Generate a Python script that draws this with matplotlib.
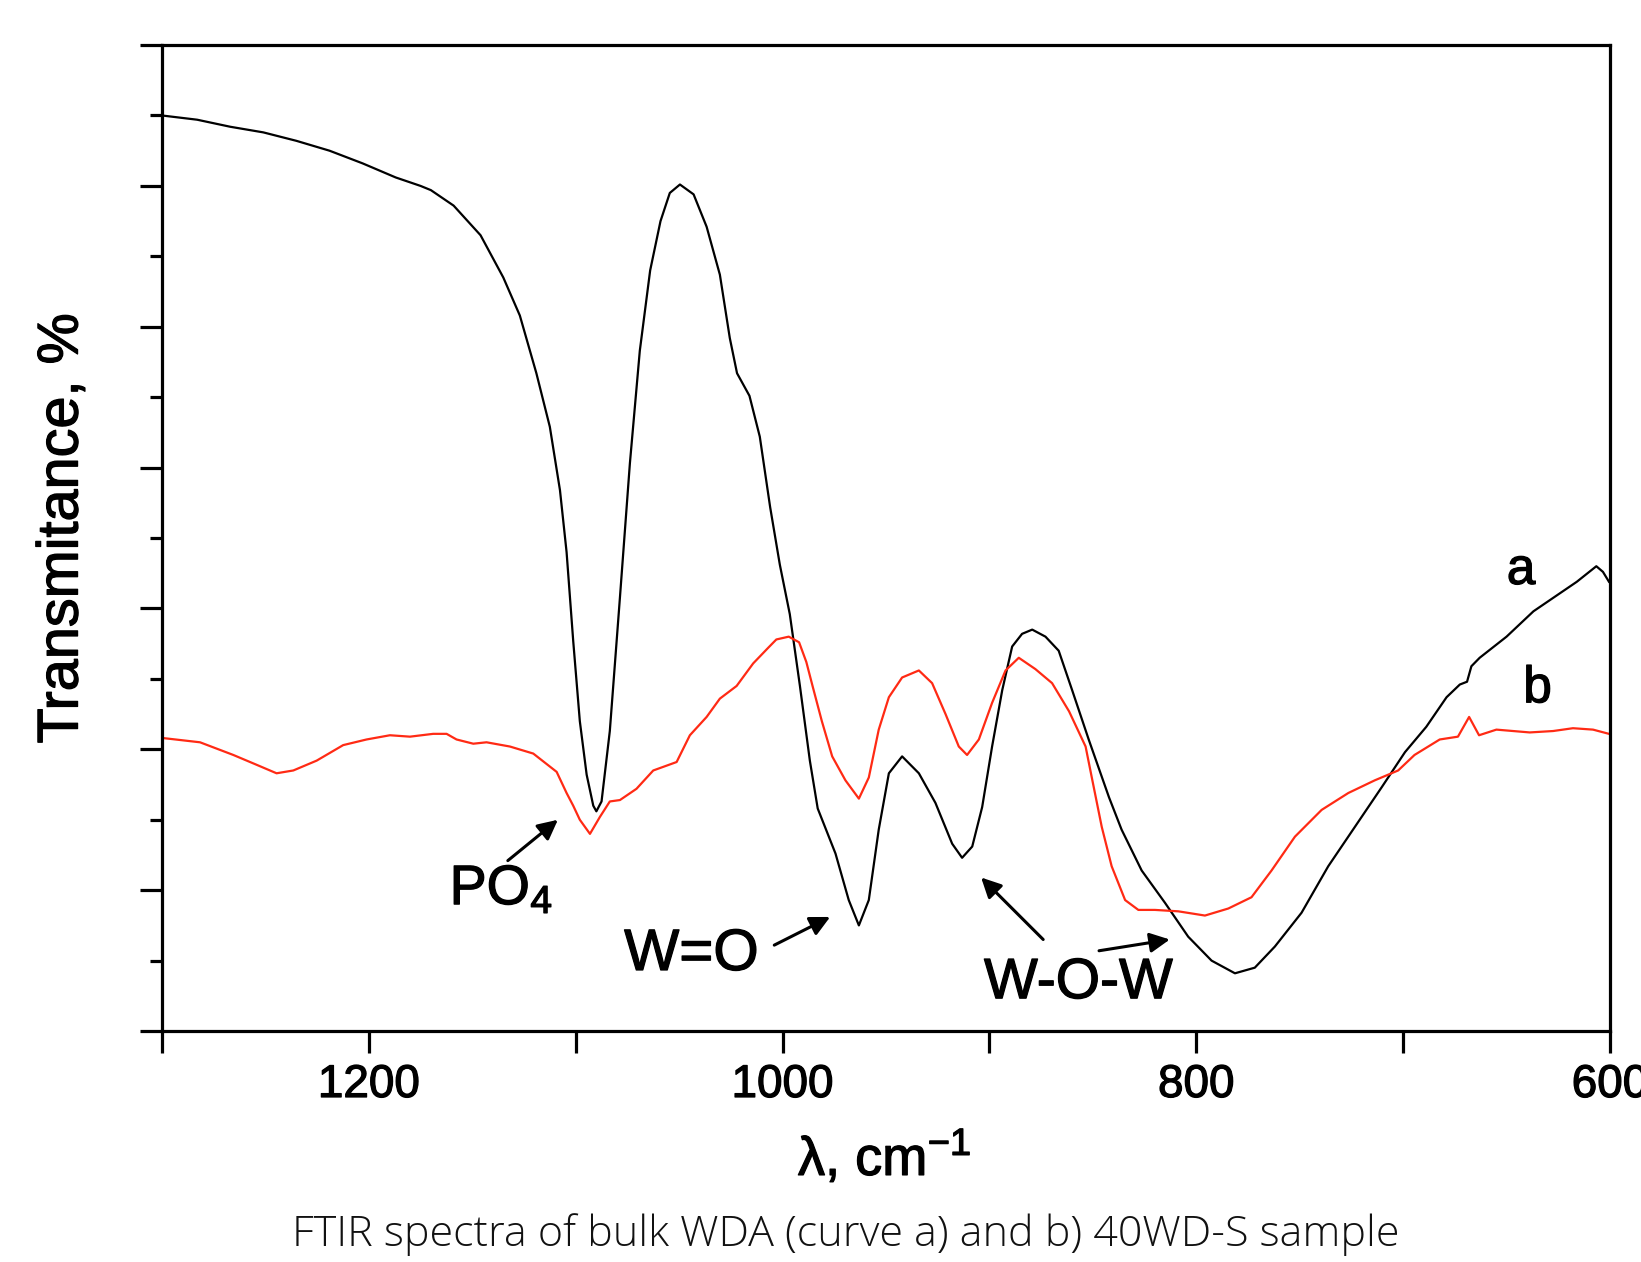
import matplotlib
matplotlib.use("Agg")
import matplotlib.pyplot as plt
import matplotlib.patheffects as pe

plt.rcParams['font.family'] = ['Liberation Sans', 'DejaVu Sans']
plt.rcParams['mathtext.fontset'] = 'custom'
plt.rcParams['mathtext.rm'] = 'Liberation Sans'
plt.rcParams['mathtext.it'] = 'Liberation Sans'
plt.rcParams['mathtext.default'] = 'regular'

# curve a: bulk WDA (wavenumber cm-1, transmittance in axis units 0..7)
wn_a = [1300, 1283, 1267, 1251, 1235, 1219, 1203, 1187, 1175, 1170, 1159, 1146,
        1135, 1127, 1119, 1112.5, 1107.6, 1104.4, 1101.2, 1098, 1094.7, 1091.5,
        1090, 1087.5, 1083.5, 1078.6, 1073.8, 1069, 1064, 1059, 1054.5, 1049.6,
        1043, 1036.7, 1030.3, 1025.5, 1022, 1016, 1011, 1006, 1001.3, 996.5,
        991.6, 986.8, 983, 974.4, 968, 963.1, 958.3, 953.5, 948.6, 942.2, 934.1,
        926.1, 918, 913.2, 908.3, 903.5, 898.7, 893.8, 889, 884.2, 879.3, 872.9,
        866.5, 860, 852, 842.2, 836.1, 826.4, 815.1, 803.9, 792.6, 781.3, 771.7,
        762, 749.1, 736.2, 723.3, 710.4, 699.1, 688.8, 679, 672.6, 669.1, 667,
        663, 650, 637, 624, 616, 606.6, 603.4, 600.5]
tr_a = [6.50, 6.47, 6.42, 6.38, 6.32, 6.25, 6.16, 6.06, 6.00, 5.97, 5.86, 5.65,
        5.35, 5.08, 4.67, 4.29, 3.84, 3.40, 2.77, 2.20, 1.82, 1.60,
        1.56, 1.63, 2.13, 3.08, 4.03, 4.83, 5.40, 5.75, 5.95, 6.01,
        5.94, 5.71, 5.37, 4.92, 4.67, 4.51, 4.22, 3.72, 3.31, 2.96,
        2.45, 1.92, 1.58, 1.26, 0.93, 0.75, 0.93, 1.43, 1.83, 1.95, 1.83,
        1.62, 1.33, 1.23, 1.31, 1.59, 2.02, 2.42, 2.73, 2.82, 2.85, 2.80,
        2.70, 2.42, 2.07, 1.66, 1.43, 1.14, 0.91, 0.67, 0.50, 0.41, 0.45,
        0.60, 0.84, 1.17, 1.45, 1.73, 1.98, 2.16, 2.37, 2.46, 2.48, 2.59,
        2.65, 2.80, 2.98, 3.11, 3.19, 3.30, 3.26, 3.19]

# curve b: 40WD-S sample
wn_b = [1299.4, 1281.6, 1265.5, 1254.2, 1244.6, 1236.5, 1225.2, 1212.4, 1201.1,
        1189.8, 1180.1, 1168.9, 1162.4, 1157.6, 1149.5, 1143.1, 1131.8, 1120.5,
        1109.2, 1104.4, 1101.2, 1098, 1093.1, 1088.3, 1083.5, 1078.6, 1070.6,
        1062.5, 1051.2, 1044.8, 1036.7, 1030.3, 1022.2, 1014.2, 1007, 1003,
        997, 992, 988.5, 985.5, 981, 976, 969.6, 963.1, 958.3, 953.5, 948.6, 942.2,
        934.1, 927.7, 921.2, 914.8, 910.8, 905.1, 898.7, 892.2, 885.8, 877.8, 869.7,
        861.5, 853.5, 850.5, 845.7, 840.9, 834.4, 828, 820, 808.7, 795.8, 784.5,
        773.3, 763.6, 752.3, 739.4, 726.5, 713.7, 702.4, 694.5, 682.3, 673.5, 668.1,
        663.3, 654.9, 638.8, 627.5, 617.9, 608.2, 600.5]
tr_b = [2.08, 2.05, 1.96, 1.89, 1.83, 1.85, 1.92, 2.03, 2.07,
        2.10, 2.09, 2.11, 2.11, 2.07, 2.04, 2.05, 2.02, 1.97,
        1.84, 1.69, 1.60, 1.50, 1.40, 1.52, 1.63, 1.64, 1.72,
        1.85, 1.91, 2.10, 2.23, 2.36, 2.45, 2.61, 2.72, 2.78,
        2.80, 2.76, 2.62, 2.45, 2.20, 1.95, 1.78, 1.65, 1.80, 2.14, 2.37, 2.51,
        2.56, 2.47, 2.25, 2.02, 1.96, 2.07, 2.33, 2.56, 2.65, 2.57, 2.47,
        2.27, 2.02, 1.80, 1.45, 1.17, 0.93, 0.86, 0.86, 0.85, 0.82, 0.87,
        0.95, 1.14, 1.38, 1.57, 1.69, 1.78, 1.85, 1.96, 2.07, 2.09, 2.23,
        2.10, 2.14, 2.12, 2.13, 2.15, 2.14, 2.11]

xticks = [1200, 1000, 800, 600]

heavy = [pe.withStroke(linewidth=0.9, foreground='black')]

fig = plt.figure(figsize=(16.41, 12.62), dpi=100)
ax = fig.add_axes([0.0987, 0.183, 0.8824, 0.7813])

ax.plot(wn_a, tr_a, color='black', lw=1.6, solid_joinstyle='round')
ax.plot(wn_b, tr_b, color='#ff2a14', lw=1.6, solid_joinstyle='round')

ax.set_xlim(1300, 600)
ax.set_ylim(0, 7)
ax.set_xticks(xticks)
ax.set_xticks([1300, 1100, 900, 700], minor=True)
ax.set_yticks(range(0, 8))
ax.set_yticks([k + 0.5 for k in range(7)], minor=True)
ax.set_yticklabels([])
for s in ax.spines.values():
    s.set_linewidth(2.3)
ax.tick_params(which='major', direction='out', length=16, width=2.3, labelsize=33, pad=7)
ax.tick_params(which='minor', direction='out', length=9, width=2.3)
ax.tick_params(axis='x', which='minor', length=16)
for lab in ax.get_xticklabels():
    lab.set_path_effects(heavy)

ax.set_xlabel('λ, cm$^{-1}$', fontsize=39, path_effects=heavy)
ax.xaxis.set_label_coords(0.499, -0.098)
ax.set_ylabel('Transmitance, %', fontsize=41.5, path_effects=heavy)
ax.yaxis.set_label_coords(-0.050, 0.51)

ax.text(643, 3.27, 'a', fontsize=37, ha='center', va='center', path_effects=heavy)
ax.text(635, 2.43, 'b', fontsize=37, ha='center', va='center', path_effects=heavy)

ax.text(1136, 1.0, 'PO$_4$', fontsize=40, ha='center', va='center', path_effects=heavy)
ax.text(1044, 0.54, 'W=O', fontsize=42, ha='center', va='center', path_effects=heavy)
ax.text(857, 0.34, 'W-O-W', fontsize=41, ha='center', va='center', path_effects=heavy)

arw = dict(arrowstyle='-|>', lw=2.2, color='black', mutation_scale=30,
           shrinkA=0, shrinkB=0)
ax.annotate('', xy=(1108.6, 1.50), xytext=(1132.8, 1.21), arrowprops=arw)
ax.annotate('', xy=(977, 0.81), xytext=(1004, 0.61), arrowprops=arw)
ax.annotate('', xy=(904, 1.09), xytext=(874, 0.65), arrowprops=arw)
ax.annotate('', xy=(812.8, 0.65), xytext=(847, 0.57), arrowprops=arw)

fig.text(0.5153, 0.013, 'FTIR spectra of bulk WDA (curve a) and b) 40WD-S sample',
         fontsize=31, family=['Open Sans', 'DejaVu Sans'], weight='light',
         color='#111111', ha='center', va='baseline')

fig.savefig('out.png', dpi=100)
